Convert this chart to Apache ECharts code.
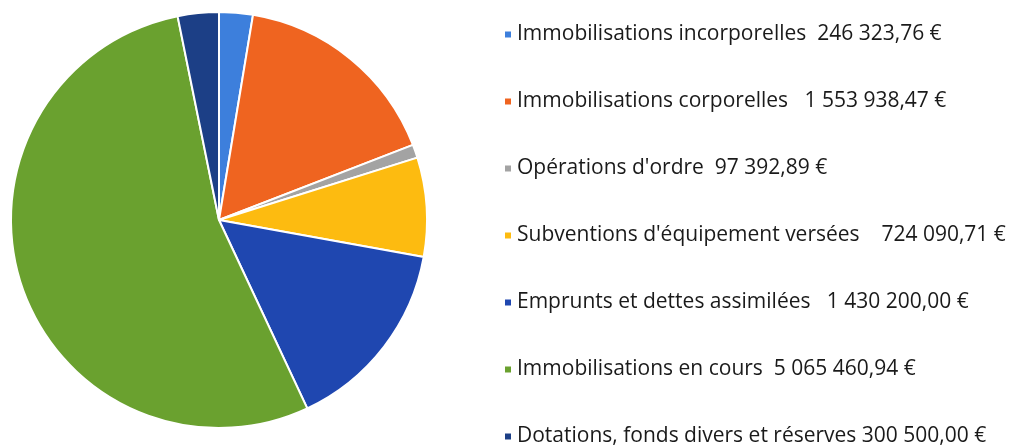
<!DOCTYPE html>
<html>
<head>
<meta charset="utf-8">
<script src="https://cdn.jsdelivr.net/npm/echarts@6/dist/echarts.min.js"></script>
<style>
  html, body { margin: 0; padding: 0; background: #fff; }
  #chart { width: 1013px; height: 445px; }
</style>
</head>
<body>
<div id="chart"></div>
<script>
const categories = [
  "Immobilisations incorporelles",
  "Immobilisations corporelles",
  "Opérations d'ordre",
  "Subventions d'équipement versées",
  "Emprunts et dettes assimilées",
  "Immobilisations en cours",
  "Dotations, fonds divers et réserves",
];
const amounts = [246323.76, 1553938.47, 97392.89, 724090.71, 1430200.0, 5065460.94, 300500.0];
const amountLabels = [
  "  246 323,76 €",
  "   1 553 938,47 €",
  "  97 392,89 €",
  "    724 090,71 €",
  "   1 430 200,00 €",
  "  5 065 460,94 €",
  " 300 500,00 €",
];
const colors = ["#3d7fdc", "#ef6420", "#a3a3a3", "#fdbb10", "#1f47b0", "#6aa12f", "#1c3f86"];

const chart = echarts.init(document.getElementById("chart"));
chart.setOption({
  animation: false,
  color: colors,
  legend: {
    orient: "vertical",
    left: 498,
    top: 19,
    height: 440,
    itemWidth: 8,
    itemHeight: 8,
    itemGap: 46,
    icon: "rect",
    textStyle: { fontFamily: "Open Sans", fontSize: 21, color: "#1a1a1a" },
    formatter: (name) => name + amountLabels[categories.indexOf(name)],
  },
  series: [
    {
      type: "pie",
      center: [219, 220],
      radius: 208,
      startAngle: 90,
      clockwise: true,
      label: { show: false },
      labelLine: { show: false },
      itemStyle: { borderColor: "#fff", borderWidth: 2 },
      data: categories.map((name, i) => ({ name, value: amounts[i] })),
    },
  ],
});
</script>
</body>
</html>
